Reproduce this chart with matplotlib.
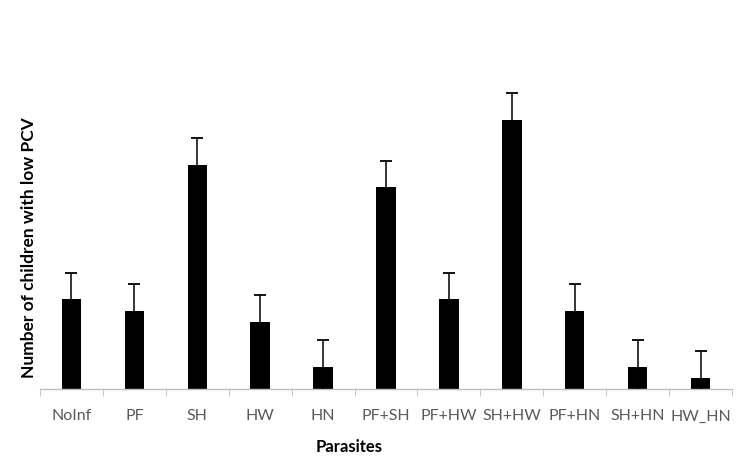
import matplotlib
matplotlib.use("Agg")
import matplotlib.pyplot as plt
import numpy as np

parasites = ["NoInf", "PF", "SH", "HW", "HN", "PF+SH", "PF+HW", "SH+HW", "PF+HN", "SH+HN", "HW_HN"]
children = [8, 7, 20, 6, 2, 18, 8, 24, 7, 2, 1]
std_err = [2.4, 2.4, 2.4, 2.4, 2.4, 2.4, 2.4, 2.4, 2.4, 2.4, 2.4]

plt.rcParams['font.family'] = ['Lato', 'DejaVu Sans']

fig = plt.figure(figsize=(7.47, 4.6), dpi=100)
ax = fig.add_axes([40 / 747, 70 / 460, 692 / 747, 336 / 460])

x = np.arange(len(parasites))
ax.bar(x, children, width=0.31, color='black', zorder=2)
ax.errorbar(x, children, yerr=std_err, fmt='none', ecolor='black',
            elinewidth=1.1, capsize=4, capthick=1.3, zorder=3)

ax.set_xlim(-0.5, len(parasites) - 0.5)
ax.set_ylim(0, 30)

for s in ['top', 'right', 'left']:
    ax.spines[s].set_visible(False)
ax.spines['bottom'].set_color('#bfbfbf')
ax.spines['bottom'].set_linewidth(1)

ax.set_yticks([])
ax.set_xticks(x)
ax.set_xticklabels(parasites, fontsize=11.5, color='#595959')
ax.tick_params(axis='x', which='major', length=0, pad=14)
ax.set_xticks(np.arange(-0.5, len(parasites)), minor=True)
ax.tick_params(axis='x', which='minor', length=5, color='#bfbfbf', direction='out')

ax.set_xlabel('Parasites', fontsize=12, fontweight='bold', va='center')
ax.xaxis.set_label_coords((349.5 - 40) / 692, -(447 - 390) / 336)
ax.set_ylabel('Number of children with low PCV', fontsize=12.5, fontweight='bold', va='center')
ax.yaxis.set_label_coords(-(40 - 29) / 692, (390 - 248) / 336)

fig.savefig('out.png', dpi=100)
